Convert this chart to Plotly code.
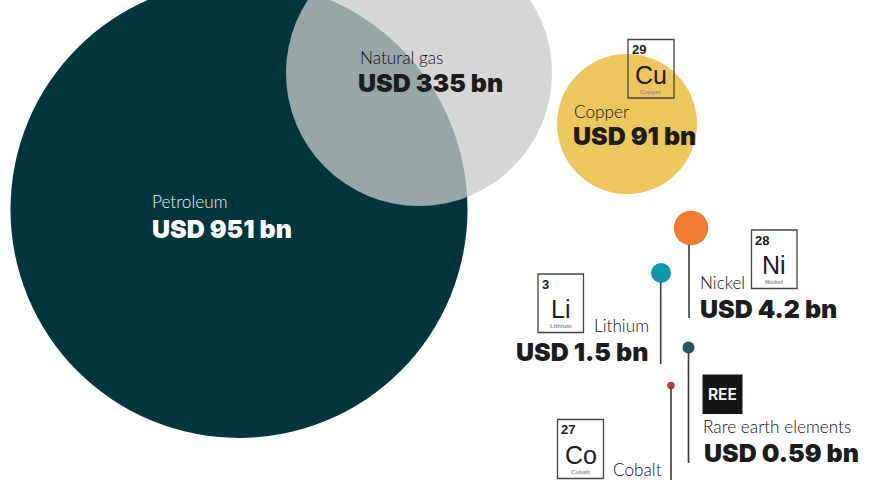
import plotly.graph_objects as go

# --- data ---
commodities = ["Petroleum", "Natural gas", "Copper", "Nickel", "Lithium", "Rare earth elements", "Cobalt"]
values_usd_bn = [951, 335, 91, 4.2, 1.5, 0.59, 0.2]
value_labels = ["USD 951 bn", "USD 335 bn", "USD 91 bn", "USD 4.2 bn", "USD 1.5 bn", "USD 0.59 bn", None]
element_numbers = [29, 28, 3, 27]
element_symbols = ["Cu", "Ni", "Li", "Co"]
element_names = ["Copper", "Nickel", "Lithium", "Cobalt"]

# --- layout of the marks (pixel canvas) ---
W, H = 870, 480
bubble_x = [239, 419, 627, 691, 661, 688.5, 671]
bubble_y = [209.5, 73, 124, 228, 273, 347.5, 385.5]
bubble_diam = [457, 266, 140, 34.5, 20, 12, 7.5]
bubble_color = ["#02363d", "rgba(201,201,201,0.76)", "#edc65c", "#ee7d30", "#0f97ae", "#26545c", "#c43a3a"]
stems = [(689, 245, 318), (660.7, 282, 364), (688.5, 352, 463), (671, 388, 480)]
label_pos = [(152, 201, "left", "#f0f4f4"), (360, 57, "left", "#111"), (574, 111, "left", "#111"),
             (700, 282, "left", "#111"), (649, 325, "right", "#111"), (703, 426, "left", "#111"),
             (662, 469.5, "right", "#111")]
value_pos = [(152, 229, "left", "#ffffff"), (358, 83, "left", "#1c1c1c"), (573, 136, "left", "#1c1c1c"),
             (700, 309, "left", "#1c1c1c"), (648, 352, "right", "#1c1c1c"), (704, 453, "left", "#1c1c1c")]
tile_box = [(628, 39.5, 674, 98), (751.5, 230, 797, 288.5), (538, 274, 583.5, 332.5), (557.5, 419.5, 603.5, 478.5)]

LABEL_FONT = "Lato"
VALUE_FONT = "Inter"
TILE_FONT = "Liberation Sans"

fig = go.Figure()
fig.add_trace(go.Scatter(
    x=bubble_x, y=bubble_y, mode="markers", text=commodities, hoverinfo="text",
    marker=dict(size=bubble_diam, sizemode="diameter", color=bubble_color, opacity=1, line=dict(width=0)),
))
shapes = []
annos = []

def txt(x, y, s, size, color, font, anchor="left", weight=None):
    f = dict(family=font, size=size, color=color)
    if weight:
        f["weight"] = weight
    annos.append(dict(x=x, y=y, xref="x", yref="y", text=s, showarrow=False, xanchor=anchor,
                      yanchor="middle", font=f, borderpad=0, borderwidth=0))

for x, y0, y1 in stems:
    shapes.append(dict(type="line", x0=x, x1=x, y0=y0, y1=y1, xref="x", yref="y",
                       line=dict(color="#3a3a3a", width=1.6), layer="above"))

for name, (x, y, a, c) in zip(commodities, label_pos):
    txt(x, y, name, 17.2, c, LABEL_FONT, a, 300)
for val, (x, y, a, c) in zip(value_labels, value_pos):
    txt(x, y, val, 25, c, VALUE_FONT, a, 900)

for num, sym, nm, (x0, y0, x1, y1) in zip(element_numbers, element_symbols, element_names, tile_box):
    shapes.append(dict(type="rect", x0=x0, x1=x1, y0=y0, y1=y1, xref="x", yref="y",
                       line=dict(color="#444444", width=1.3), fillcolor="rgba(0,0,0,0)", layer="above"))
    txt(x0 + 3.5, y0 + 10, str(num), 13, "#1c1c1c", TILE_FONT, "left", 700)
    txt((x0 + x1) / 2, y0 + 35, sym, 25, "#1c1c1c", TILE_FONT, "center")
    txt((x0 + x1) / 2, y0 + 52, nm, 6, "#8f8f8f", TILE_FONT, "center", 700)

shapes.append(dict(type="rect", x0=702.5, x1=742.5, y0=374.5, y1=414, xref="x", yref="y",
                   line=dict(width=0), fillcolor="#151515", layer="above"))
txt(722.5, 394.5, "REE", 15.5, "#ffffff", "Inter", "center", 600)

fig.update_layout(
    width=W, height=H, autosize=False, margin=dict(l=0, r=0, t=0, b=0),
    paper_bgcolor="white", plot_bgcolor="white", showlegend=False,
    xaxis=dict(range=[0, W], visible=False, fixedrange=True),
    yaxis=dict(range=[H, 0], visible=False, fixedrange=True),
    shapes=shapes, annotations=annos,
)
fig.write_html("out.html", config=dict(displayModeBar=False),
               post_script="document.body.style.margin='0';document.documentElement.style.overflow='hidden';")
